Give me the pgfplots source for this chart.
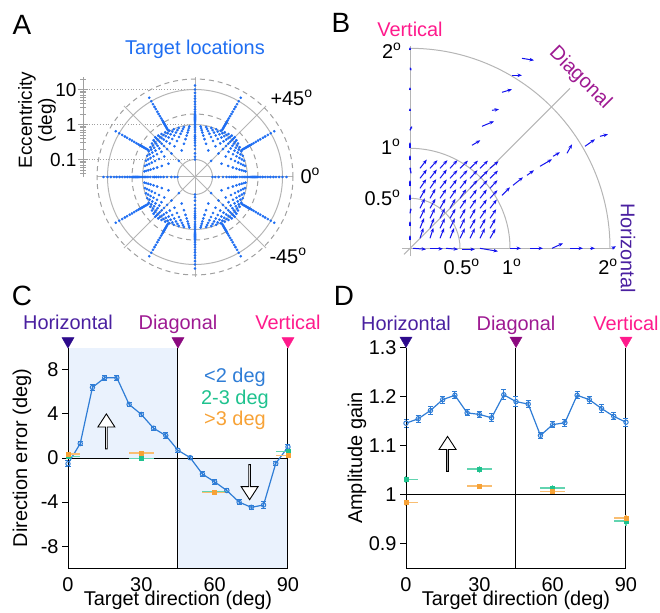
\documentclass[border=0pt]{standalone}
\usepackage{fontspec}
\setmainfont{Liberation Sans}
\usepackage{pgfplots}
\usepackage{pgfplotstable}
\pgfplotsset{compat=1.18}
\usetikzlibrary{arrows.meta,shapes.arrows}

\definecolor{dotblue}{HTML}{1F6EF2}
\definecolor{qblue}{HTML}{1212EE}
\definecolor{lineblue}{HTML}{2F7DD6}
\definecolor{ggreen}{HTML}{1FC28E}
\definecolor{gorange}{HTML}{F7A236}
\definecolor{horiz}{HTML}{4A20A0}
\definecolor{horiztri}{HTML}{2D0B8C}
\definecolor{diag}{HTML}{9E1A92}
\definecolor{diagtri}{HTML}{8C0A80}
\definecolor{vert}{HTML}{FF1A8C}
\definecolor{bgblue}{HTML}{EAF2FD}
\definecolor{ring}{HTML}{B5B5B5}
\definecolor{ringd}{HTML}{A0A0A0}

\newcommand{\fs}{\fontsize{20}{23}\selectfont}
\pgfplotsset{
  every tick label/.append style={font=\fs},
  every axis label/.append style={font=\fs},
  /pgf/number format/assume math mode=true,
}

% A: target grid, one quadrant (deg)
\pgfplotstableread[row sep=\\]{gx gy\\
0.1 0.1\\0.2 0.1\\0.3 0.1\\0.4 0.1\\0.5 0.1\\0.6 0.1\\0.7 0.1\\0.8 0.1\\0.9 0.1\\
0.1 0.2\\0.2 0.2\\0.3 0.2\\0.4 0.2\\0.5 0.2\\0.6 0.2\\0.7 0.2\\0.8 0.2\\0.9 0.2\\
0.1 0.3\\0.2 0.3\\0.3 0.3\\0.4 0.3\\0.5 0.3\\0.6 0.3\\0.7 0.3\\0.8 0.3\\0.9 0.3\\
0.1 0.4\\0.2 0.4\\0.3 0.4\\0.4 0.4\\0.5 0.4\\0.6 0.4\\0.7 0.4\\0.8 0.4\\0.9 0.4\\
0.1 0.5\\0.2 0.5\\0.3 0.5\\0.4 0.5\\0.5 0.5\\0.6 0.5\\0.7 0.5\\0.8 0.5\\0.9 0.5\\
0.1 0.6\\0.2 0.6\\0.3 0.6\\0.4 0.6\\0.5 0.6\\0.6 0.6\\0.7 0.6\\0.8 0.6\\0.9 0.6\\
0.1 0.7\\0.2 0.7\\0.3 0.7\\0.4 0.7\\0.5 0.7\\0.6 0.7\\0.7 0.7\\0.8 0.7\\0.9 0.7\\
0.1 0.8\\0.2 0.8\\0.3 0.8\\0.4 0.8\\0.5 0.8\\0.6 0.8\\0.7 0.8\\0.8 0.8\\0.9 0.8\\
0.1 0.9\\0.2 0.9\\0.3 0.9\\0.4 0.9\\0.5 0.9\\0.6 0.9\\0.7 0.9\\0.8 0.9\\0.9 0.9\\
}\gridA
% A: eccentricities along the 12 spokes (k is just a row number)
\pgfplotstableread[row sep=\\]{e k\\
1.1 1\\1.2 2\\1.3 3\\1.4 4\\1.5 5\\1.6 6\\1.7 7\\1.8 8\\1.9 9\\2.0 10\\2.3 11\\2.7 12\\3.2 13\\3.8 14\\4.5 15\\5.5 16\\6.5 17\\8 18\\10 19\\13 20\\
}\spokeA
% A: eccentricities on the cardinal axes inside 1 deg
\pgfplotstableread[row sep=\\]{e k\\
0.1 1\\0.12 2\\0.15 3\\0.2 4\\0.25 5\\0.3 6\\0.35 7\\0.4 8\\0.45 9\\0.5 10\\0.6 11\\0.7 12\\0.8 13\\0.9 14\\1.0 15\\
}\axA

% B: error vectors (x y u v), deg
\pgfplotstableread[row sep=\\]{x y u v\\
0.1 0.1 0.034 0.104\\0.2 0.1 0.034 0.104\\0.3 0.1 0.041 0.102\\0.4 0.1 0.041 0.102\\0.5 0.1 0.048 0.099\\0.6 0.1 0.048 0.099\\0.7 0.1 0.048 0.099\\0.8 0.1 0.055 0.096\\
0.1 0.2 0.041 0.102\\0.2 0.2 0.041 0.102\\0.3 0.2 0.048 0.099\\0.4 0.2 0.048 0.099\\0.5 0.2 0.048 0.099\\0.6 0.2 0.055 0.096\\0.7 0.2 0.055 0.096\\0.8 0.2 0.055 0.096\\
0.1 0.3 0.048 0.099\\0.2 0.3 0.048 0.099\\0.3 0.3 0.048 0.099\\0.4 0.3 0.055 0.096\\0.5 0.3 0.055 0.096\\0.6 0.3 0.055 0.096\\0.7 0.3 0.062 0.091\\0.8 0.3 0.062 0.091\\
0.1 0.4 0.048 0.099\\0.2 0.4 0.055 0.096\\0.3 0.4 0.055 0.096\\0.4 0.4 0.055 0.096\\0.5 0.4 0.062 0.091\\0.6 0.4 0.062 0.091\\0.7 0.4 0.068 0.087\\0.8 0.4 0.068 0.087\\
0.1 0.5 0.055 0.096\\0.2 0.5 0.055 0.096\\0.3 0.5 0.062 0.091\\0.4 0.5 0.062 0.091\\0.5 0.5 0.062 0.091\\0.6 0.5 0.068 0.087\\0.7 0.5 0.068 0.087\\0.8 0.5 0.074 0.081\\
0.1 0.6 0.062 0.091\\0.2 0.6 0.062 0.091\\0.3 0.6 0.068 0.087\\0.4 0.6 0.068 0.087\\0.5 0.6 0.068 0.087\\0.6 0.6 0.074 0.081\\0.7 0.6 0.074 0.081\\0.8 0.6 0.074 0.081\\
0.1 0.7 0.068 0.087\\0.2 0.7 0.068 0.087\\0.3 0.7 0.068 0.087\\0.4 0.7 0.074 0.081\\0.5 0.7 0.074 0.081\\0.6 0.7 0.074 0.081\\0.7 0.7 0.079 0.076\\0.8 0.7 0.079 0.076\\
0.1 0.8 0.068 0.087\\0.2 0.8 0.074 0.081\\0.3 0.8 0.074 0.081\\0.4 0.8 0.074 0.081\\0.5 0.8 0.079 0.076\\0.6 0.8 0.079 0.076\\0.7 0.8 0.079 0.076\\0.8 0.8 0.085 0.070\\
0.03 0.0 0.13 -0.01\\0.2 -0.005 0.13 0.0\\0.36 0.0 0.12 -0.01\\0.52 -0.01 0.13 0.0\\0.70 0.0 0.18 -0.03\\
1.0 0.0 0.11 0.0\\1.2 0.0 0.13 0.0\\1.42 0.0 0.11 0.05\\1.6 0.0 0.13 0.0\\1.8 0.0 0.05 0.0\\2.02 0.0 0.04 0.02\\
0.62 1.03 0.083 0.05\\0.72 1.22 0.12 0.05\\0.82 1.38 0.07 0.01\\0.92 1.56 0.1 0.03\\1.02 1.73 0.1 0.0\\1.12 1.9 0.12 -0.02\\
0.92 0.53 0.08 0.08\\1.03 0.63 0.10 0.08\\1.17 0.73 0.07 0.05\\1.30 0.82 0.12 0.07\\1.43 0.92 0.07 0.04\\1.57 0.95 0.05 0.09\\1.75 1.02 0.10 0.07\\1.90 1.12 0.08 0.02\\
}\arrowsB
% B: very short vectors on the vertical meridian
\pgfplotstableread[row sep=\\]{x y u v\\
0.0 1.98 0.0 0.03\\0.01 1.78 -0.01 0.03\\0.0 1.58 0.0 0.03\\0.0 1.38 0.0 0.02\\0.0 1.18 0.02 0.04\\0.0 1.0 0.0 0.06\\
0.0 0.88 0.0 0.05\\0.01 0.75 -0.01 0.06\\0.0 0.62 0.0 0.06\\0.0 0.48 0.0 0.06\\0.0 0.35 0.01 0.05\\0.0 0.22 0.0 0.05\\0.0 0.08 0.0 0.05\\
}\vertB

% C: direction error
\pgfplotstableread[row sep=\\]{x y e\\
0 -0.52 0.25\\5 1.31 0.2\\10 6.4 0.3\\15 7.27 0.25\\20 7.27 0.25\\25 4.86 0.2\\30 3.95 0.2\\35 2.7 0.2\\40 2.04 0.25\\45 0.7 0.2\\
50 0.03 0.15\\55 -1.46 0.2\\60 -2.16 0.2\\65 -2.95 0.2\\70 -4.0 0.2\\75 -4.47 0.2\\80 -4.26 0.3\\85 -0.49 0.2\\90 1.0 0.2\\
}\Cblue
\pgfplotstableread[row sep=\\]{x y xp xm ey\\
0 0.15 5 0 0.15\\30 -0.06 5 5 0.15\\60 -3.1 5 5 0.15\\90 0.6 0 5 0.15\\
}\Cgreen
\pgfplotstableread[row sep=\\]{x y xp xm ey\\
0 0.36 5 0 0.15\\30 0.43 5 5 0.2\\60 -3.13 5 5 0.2\\90 0.24 0 5 0.15\\
}\Corange

% D: amplitude gain
\pgfplotstableread[row sep=\\]{x y e\\
0 1.146 0.008\\5 1.155 0.007\\10 1.172 0.008\\15 1.194 0.007\\20 1.203 0.007\\25 1.167 0.006\\30 1.164 0.006\\35 1.157 0.008\\40 1.204 0.01\\45 1.190 0.01\\
50 1.185 0.007\\55 1.121 0.006\\60 1.143 0.006\\65 1.147 0.007\\70 1.203 0.007\\75 1.194 0.007\\80 1.176 0.008\\85 1.160 0.007\\90 1.148 0.008\\
}\Dblue
\pgfplotstableread[row sep=\\]{x y xp xm ey\\
0 1.031 5 0 0.007\\30 1.052 5 5 0.007\\60 1.014 5 5 0.006\\90 0.946 0 5 0.01\\
}\Dgreen
\pgfplotstableread[row sep=\\]{x y xp xm ey\\
0 0.984 5 0 0.006\\30 1.018 5 5 0.005\\60 1.007 5 5 0.005\\90 0.953 0 5 0.006\\
}\Dorange

% radius in the log-polar map: decades above 10^-1.5 deg
\newcommand{\ecc}{sqrt(\thisrow{gx}^2+\thisrow{gy}^2)}
\newcommand{\LR}{(log10(\ecc)+1.5)/\ecc}

\pgfplotsset{
  curve/.style={lineblue,line width=1.2bp,mark=o,mark size=2.2bp,mark options={line width=1bp},
    error bars/.cd,y dir=both,y explicit,error bar style={line width=1bp},error mark options={rotate=90,mark size=2.5bp,line width=1bp}},
  group/.style={#1,only marks,mark=square*,mark size=2bp,
    error bars/.cd,x dir=both,x explicit,y dir=both,y explicit,error mark=none,error bar style={line width=1.6bp,#1!70}},
  panel/.style={scale only axis,width=220bp,height=220.6bp,xmin=0,xmax=90,clip=false,axis on top,
    axis x line*=bottom,axis y line*=left,axis line style={line width=1bp,-},
    xtick={0,30,60,90},xtick style={draw=none},
    tick align=outside,major tick length=6bp,ytick style={line width=1bp,black},
    xlabel={Target direction (deg)},
    xlabel style={at={(axis description cs:0.5,-0.144)},anchor=center}},
  tri/.style={only marks,mark=triangle*,mark size=7bp,mark options={rotate=180,fill=#1,draw=#1}},
}
\tikzset{
  openarrow/.style={single arrow,draw=black,fill=white,line width=0.9bp,minimum height=35bp,
    minimum width=17bp,single arrow head extend=4bp,single arrow tip angle=66,inner sep=0pt,shape border rotate=#1},
}

\begin{document}
\begin{tikzpicture}[font=\fs]
\useasboundingbox (0,0) rectangle (660bp,-613bp);

% ---------------- A ----------------
\node[font=\fontsize{28}{30}\selectfont] at (22bp,-25bp) {A};
\node[dotblue,anchor=base] at (195bp,-54bp) {Target locations};
\foreach \yy in {89.5,124.5,159.5}
  \draw[ringd,dotted,line width=0.8bp] (86bp,-\yy bp) -- (195bp,-\yy bp);

\begin{axis}[at={(83bp,-177bp)},anchor=south west,scale only axis,width=10bp,height=100bp,
  ymode=log,ymin=0.031623,ymax=22.76,xmin=0,xmax=1,
  hide x axis,axis y line*=left,y axis line style={ringd,line width=1bp,-},
  ytick={0.1,1,10},yticklabels={0.1,1,10},
  minor ytick={0.04,0.05,0.06,0.07,0.08,0.09,0.2,0.3,0.4,0.5,0.6,0.7,0.8,0.9,2,3,4,5,6,7,8,9,20},
  ytick align=center,major tick length=10bp,minor tick length=5bp,
  ytick style={ringd,line width=0.8bp},
  yticklabel style={font=\fontsize{19}{21}\selectfont,xshift=2bp},
  ylabel={Eccentricity\\(deg)},
  ylabel style={font=\fontsize{19}{20}\selectfont,align=center,at={(axis description cs:-4.6,0.57)},anchor=center}]
\addplot[draw=none] coordinates {(0,1)};
\end{axis}

\begin{axis}[at={(90bp,-282bp)},anchor=south west,x=35bp,y=35bp,
  xmin=-3,xmax=3,ymin=-3,ymax=3,hide axis,clip=false]
\draw[ring,line width=1bp] (axis cs:-2.8,0) -- (axis cs:2.8,0);
\draw[ring,line width=1bp] (axis cs:0,-2.86) -- (axis cs:0,2.86);
\draw[ring,line width=1bp] (axis cs:-2.03,-2.03) -- (axis cs:2.03,2.03);
\draw[ring,line width=1bp] (axis cs:-2.03,2.03) -- (axis cs:2.03,-2.03);
\draw[ring,line width=1bp] (axis cs:0,0) circle[radius=17.5bp];
\draw[ring,line width=1bp] (axis cs:0,0) circle[radius=52.5bp];
\draw[ring,line width=1bp] (axis cs:0,0) circle[radius=87.5bp];
\draw[ringd,line width=1bp,dash pattern=on 5bp off 4bp] (axis cs:0,0) circle[radius=63bp];
\draw[ringd,line width=1bp,dash pattern=on 5bp off 4bp] (axis cs:0,0) circle[radius=98bp];
\addplot[only marks,mark=*,mark size=1.15bp,dotblue] table[x expr={\LR*\thisrow{gx}},y expr={\LR*\thisrow{gy}}] \gridA;
\addplot[only marks,mark=*,mark size=1.15bp,dotblue] table[x expr={-\LR*\thisrow{gx}},y expr={\LR*\thisrow{gy}}] \gridA;
\addplot[only marks,mark=*,mark size=1.15bp,dotblue] table[x expr={-\LR*\thisrow{gx}},y expr={-\LR*\thisrow{gy}}] \gridA;
\addplot[only marks,mark=*,mark size=1.15bp,dotblue] table[x expr={\LR*\thisrow{gx}},y expr={-\LR*\thisrow{gy}}] \gridA;
\pgfplotsinvokeforeach{0,30,60,90,120,150,180,210,240,270,300,330}{
  \addplot[only marks,mark=*,mark size=1.15bp,dotblue] table[x expr={(log10(\thisrow{e})+1.5)*cos(#1)},y expr={(log10(\thisrow{e})+1.5)*sin(#1)}] \spokeA;
}
\pgfplotsinvokeforeach{0,90,180,270}{
  \addplot[only marks,mark=*,mark size=1.15bp,dotblue] table[x expr={(log10(\thisrow{e})+1.5)*cos(#1)},y expr={(log10(\thisrow{e})+1.5)*sin(#1)}] \axA;
}
\end{axis}
\node[anchor=base west] at (267bp,-105bp) {+45\textsuperscript{o}};
\node[anchor=base west] at (297bp,-183bp) {0\textsuperscript{o}};
\node[anchor=base west] at (266bp,-263bp) {-45\textsuperscript{o}};

% ---------------- B ----------------
\node[font=\fontsize{28}{30}\selectfont] at (341bp,-23bp) {B};
\begin{axis}[at={(390bp,-268.3bp)},anchor=south west,x=100bp,y=100bp,
  xmin=-0.2,xmax=2.3,ymin=-0.2,ymax=2.2,hide axis,clip=false]
\draw[ring,line width=1bp] (axis cs:-0.08,0) -- (axis cs:2.05,0);
\draw[ring,line width=1bp] (axis cs:0,-0.08) -- (axis cs:0,2.02);
\draw[ring,line width=1bp] (axis cs:-0.06,-0.06) -- (axis cs:1.6,1.6);
\draw[ring,line width=1bp] (axis cs:0.5,0) arc[start angle=0,end angle=90,radius=50bp];
\draw[ring,line width=1bp] (axis cs:1,0) arc[start angle=0,end angle=90,radius=100bp];
\draw[ring,line width=1bp] (axis cs:2,0) arc[start angle=0,end angle=90,radius=200bp];
\addplot[qblue,line width=1bp,-{Stealth[length=4.5bp,width=3.5bp]},quiver={u=\thisrow{u},v=\thisrow{v}}] table[x=x,y=y] \arrowsB;
\addplot[qblue,line width=1.2bp,-{Stealth[length=2bp,width=2bp]},quiver={u=\thisrow{u},v=\thisrow{v}}] table[x=x,y=y] \vertB;
\end{axis}
\node[vert,anchor=base] at (410bp,-36bp) {Vertical};
\node[anchor=base east] at (405bp,-58bp) {2\textsuperscript{o}};
\node[anchor=base east] at (404bp,-154bp) {1\textsuperscript{o}};
\node[anchor=base east] at (404bp,-205bp) {0.5\textsuperscript{o}};
\node[anchor=base] at (461.7bp,-274bp) {0.5\textsuperscript{o}};
\node[anchor=base] at (511.7bp,-274bp) {1\textsuperscript{o}};
\node[anchor=base] at (608bp,-274bp) {2\textsuperscript{o}};
\node[horiz,rotate=-90] at (628bp,-248bp) {Horizontal};
\node[diag,rotate=-45] at (580bp,-78bp) {Diagonal};

% ---------------- C ----------------
\node[font=\fontsize{28}{30}\selectfont] at (22bp,-296bp) {C};
\begin{axis}[panel,at={(68bp,-568.3bp)},anchor=south west,ymin=-10,ymax=10,
  ytick={-8,-4,0,4,8},yticklabels={-8,-4,0,4,8},
  ylabel={Direction error (deg)},
  ylabel style={at={(axis description cs:-0.209,0.5)},anchor=center}]
\fill[bgblue] (axis cs:0,0) rectangle (axis cs:45,10);
\fill[bgblue] (axis cs:45,-10) rectangle (axis cs:90,0);
\draw[black,line width=1bp] (axis cs:0,0) -- (axis cs:90,0);
\draw[black,line width=1bp] (axis cs:45,-10) -- (axis cs:45,10);
\draw[black,line width=1bp] (axis cs:90,-10) -- (axis cs:90,10);
\node[openarrow=90] at (axis cs:15.7,2.35) {};
\node[openarrow=270] at (axis cs:74.3,-2.13) {};
\addplot[curve] table[x=x,y=y,y error=e] \Cblue;
\addplot[group=ggreen] table[x=x,y=y,x error plus=xp,x error minus=xm,y error=ey] \Cgreen;
\addplot[group=gorange] table[x=x,y=y,x error plus=xp,x error minus=xm,y error=ey] \Corange;
\addplot[tri=horiztri] coordinates {(0,10.6)};
\addplot[tri=diagtri] coordinates {(45,10.6)};
\addplot[tri=vert] coordinates {(90,10.6)};
\node[horiz,anchor=base] at (axis cs:0,11.66) {Horizontal};
\node[diag,anchor=base] at (axis cs:45,11.66) {Diagonal};
\node[vert,anchor=base] at (axis cs:90,11.66) {Vertical};
\node[lineblue] at (axis cs:68.3,7.27) {<2 deg};
\node[ggreen] at (axis cs:68.3,5.3) {2-3 deg};
\node[gorange] at (axis cs:68.3,3.42) {>3 deg};
\end{axis}

% ---------------- D ----------------
\node[font=\fontsize{28}{30}\selectfont] at (344bp,-296bp) {D};
\begin{axis}[panel,at={(406bp,-568.3bp)},anchor=south west,ymin=0.85,ymax=1.3,
  ytick={0.9,1,1.1,1.2,1.3},yticklabels={0.9,1,1.1,1.2,1.3},
  ylabel={Amplitude gain},
  ylabel style={at={(axis description cs:-0.223,0.5)},anchor=center}]
\draw[black,line width=1bp] (axis cs:0,1) -- (axis cs:90,1);
\draw[black,line width=1bp] (axis cs:45,0.85) -- (axis cs:45,1.3);
\draw[black,line width=1bp] (axis cs:90,0.85) -- (axis cs:90,1.3);
\node[openarrow=90] at (axis cs:17,1.082) {};
\addplot[curve] table[x=x,y=y,y error=e] \Dblue;
\addplot[group=ggreen] table[x=x,y=y,x error plus=xp,x error minus=xm,y error=ey] \Dgreen;
\addplot[group=gorange] table[x=x,y=y,x error plus=xp,x error minus=xm,y error=ey] \Dorange;
\addplot[tri=horiztri] coordinates {(0,1.3147)};
\addplot[tri=diagtri] coordinates {(45,1.3147)};
\addplot[tri=vert] coordinates {(90,1.3147)};
\node[horiz,anchor=base] at (axis cs:0,1.336) {Horizontal};
\node[diag,anchor=base] at (axis cs:45,1.336) {Diagonal};
\node[vert,anchor=base] at (axis cs:90,1.336) {Vertical};
\end{axis}
\end{tikzpicture}
\end{document}
